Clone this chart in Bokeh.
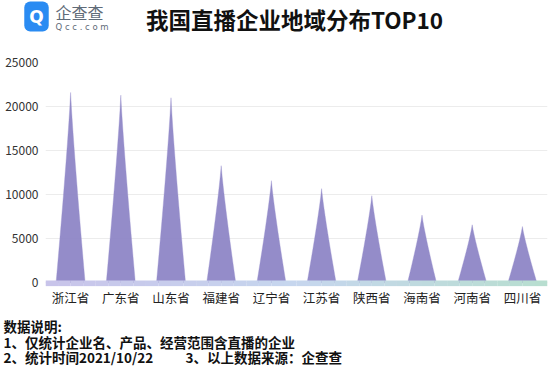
from bokeh.plotting import figure
from bokeh.models import Label, FixedTicker, Range1d
from bokeh.layouts import column, row
from bokeh.core.properties import value
from bokeh.embed import file_html
from bokeh.resources import INLINE
import numpy as np

provinces = ["浙江省", "广东省", "山东省", "福建省", "辽宁省", "江苏省", "陕西省", "海南省", "河南省", "四川省"]
counts = [21600, 21300, 21000, 13300, 11600, 10700, 9900, 7700, 6600, 6400]
y_ticks = [0, 5000, 10000, 15000, 20000, 25000]

title_text = "我国直播企业地域分布TOP10"
note_head = "数据说明:"
note_1 = "1、仅统计企业名、产品、经营范围含直播的企业"
note_2 = "2、统计时间2021/10/22"
note_3 = "3、以上数据来源：企查查"

FONT = "Noto Sans CJK SC"
W = 550
TOP_H = 46
LOGO_W = 110
BOT_H = 60


def blank(w, h, x0):
    f = figure(width=w, height=h, output_backend="svg", toolbar_location=None,
               x_axis_type=None, y_axis_type=None,
               x_range=Range1d(x0, x0 + w), y_range=Range1d(h, 0),
               min_border=0, min_border_left=0, min_border_right=0,
               min_border_top=0, min_border_bottom=0)
    f.grid.visible = False
    f.outline_line_color = None
    f.background_fill_color = "white"
    f.border_fill_color = "white"
    return f


# ---------- header ----------
logo = blank(LOGO_W, TOP_H, 0)
logo.add_layout(Label(x=36, y=16, text="Q", text_font="DejaVu Sans", text_font_style="bold",
                      text_font_size="17px", text_color="white", text_align="center",
                      text_baseline="middle", background_fill_color="#2a8bf2", padding=5,
                      border_radius=6))
logo.text(x=[55], y=[11], text=["企查查"], text_font=value(FONT), text_font_size="16px",
          text_color="#5f6b78", text_align="left", text_baseline="middle")
logo.text(x=[55], y=[26], text=["Q c c . c o m"], text_font=value("DejaVu Sans"), text_font_size="8.5px",
          text_color="#5f6b78", text_align="left", text_baseline="middle")

head = blank(W - LOGO_W, TOP_H, LOGO_W)
head.text(x=[294], y=[18], text=[title_text], text_font=value(FONT), text_font_style="bold",
          text_font_size="22.5px", text_color="#111111", text_align="center", text_baseline="middle")

# ---------- main chart ----------
p = figure(frame_width=502, frame_height=224, output_backend="svg", toolbar_location=None,
           x_range=(-0.5, 9.5), y_range=(-400, 25000),
           min_border_left=45, min_border_right=3, min_border_top=16, min_border_bottom=20)
p.outline_line_color = None
p.background_fill_color = "white"
p.border_fill_color = "white"
p.xgrid.grid_line_color = None
p.ygrid.grid_line_color = "#ececec"
p.ygrid.ticker = FixedTicker(ticks=y_ticks)

hw = 0.29
ts = np.linspace(0, 1, 12)
xs, ys = [], []
for i, v in enumerate(counts):
    wl = hw * (1 - ts) ** 1.15
    yy = list(ts * v)
    xs.append(list(i - wl) + list(i + wl[::-1]))
    ys.append(yy + yy[::-1])
p.patches(xs, ys, fill_color="#8e86c6", fill_alpha=0.95, line_color="#9a93cf",
          line_width=0.6, line_alpha=0.6)

n = 40
edges = np.linspace(-0.5, 9.5, n + 1)
c0 = np.array([200, 196, 234])
c1 = np.array([198, 214, 238])
c2 = np.array([184, 222, 208])
cols = []
for k in range(n):
    t = k / (n - 1)
    c = c0 + (c1 - c0) * (t / 0.5) if t < 0.5 else c1 + (c2 - c1) * ((t - 0.5) / 0.5)
    cols.append("#%02x%02x%02x" % tuple(int(round(x)) for x in c))
p.quad(left=edges[:-1], right=edges[1:] + 0.001, bottom=-380, top=280, fill_color=cols, line_color=None)

for ax in (p.xaxis, p.yaxis):
    ax.axis_line_color = None
    ax.major_tick_line_color = None
    ax.minor_tick_line_color = None
    ax.major_tick_out = 0
    ax.major_tick_in = 0
    ax.minor_tick_out = 0
    ax.minor_tick_in = 0

p.xaxis.ticker = FixedTicker(ticks=list(range(len(provinces))))
p.xaxis.major_label_overrides = {i: s for i, s in enumerate(provinces)}
p.xaxis.major_label_text_font = FONT
p.xaxis.major_label_text_font_size = "12.5px"
p.xaxis.major_label_text_color = "#222222"
p.xaxis.major_label_standoff = 1

p.yaxis.ticker = FixedTicker(ticks=y_ticks)
p.yaxis.major_label_text_font = FONT
p.yaxis.major_label_text_font_size = "12px"
p.yaxis.major_label_text_color = "#333333"
p.yaxis.major_label_standoff = 7

# ---------- footnotes ----------
bot = blank(W, BOT_H, 0)
bot.text(x=[3, 3, 3, 185], y=[16, 32, 47, 47], text=[note_head, note_1, note_2, note_3],
         text_font=value(FONT), text_font_style="bold",
         text_font_size="13.5px", text_color="#111111", text_align="left", text_baseline="middle")

layout = column(row(logo, head, spacing=0), p, row(bot, spacing=0), spacing=0)
open("out.html", "w").write(file_html(layout, INLINE))
